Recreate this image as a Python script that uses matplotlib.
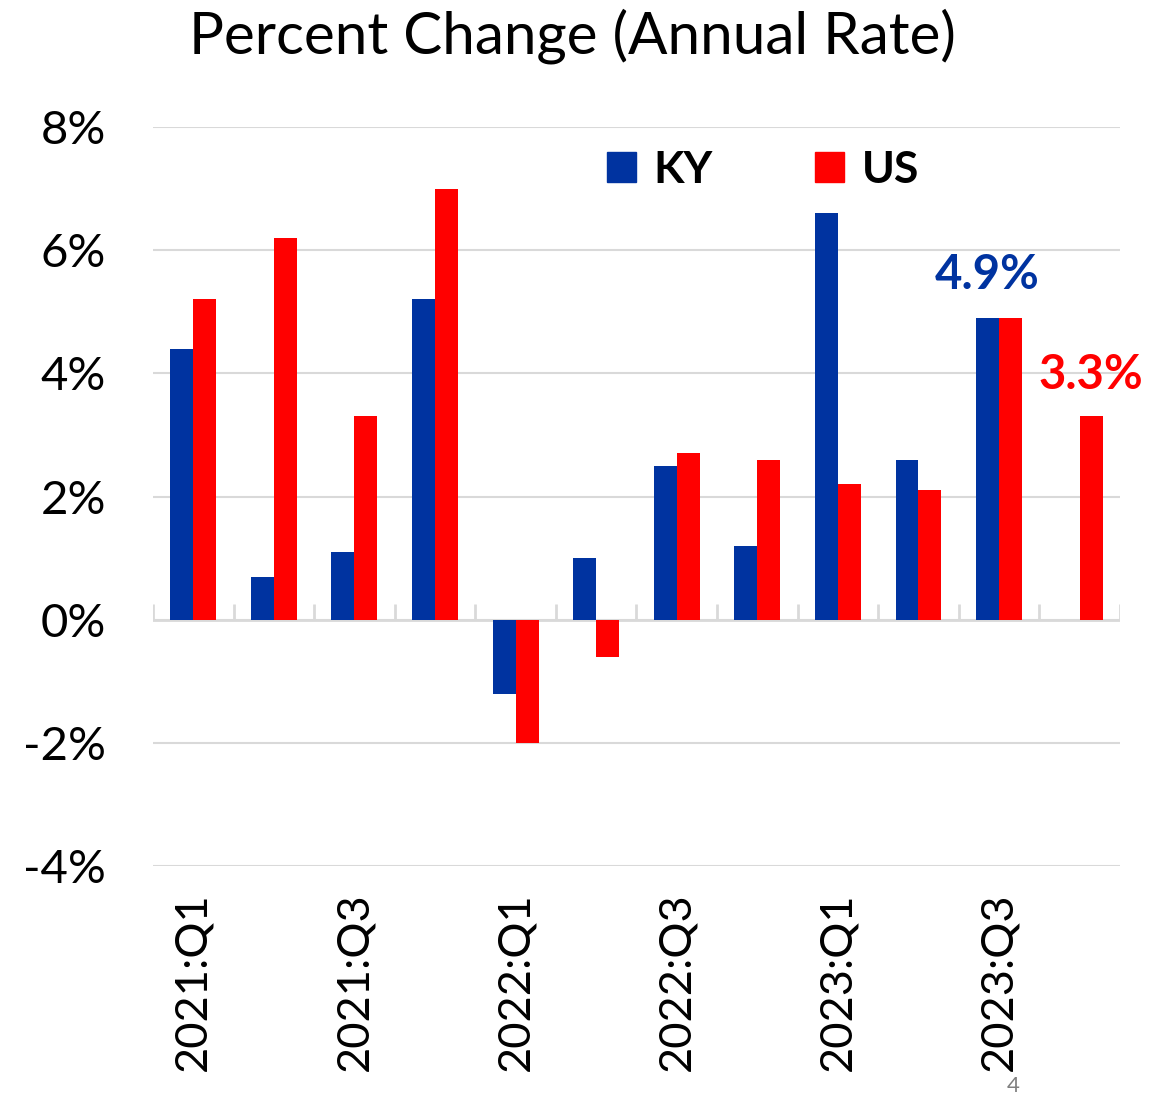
import matplotlib.pyplot as plt
from matplotlib.patches import Patch
import numpy as np

plt.rcParams['font.family'] = ['Lato', 'DejaVu Sans']

quarters = ['2021:Q1', '2021:Q2', '2021:Q3', '2021:Q4',
            '2022:Q1', '2022:Q2', '2022:Q3', '2022:Q4',
            '2023:Q1', '2023:Q2', '2023:Q3', '2023:Q4']
ky = [4.4, 0.7, 1.1, 5.2, -1.2, 1.0, 2.5, 1.2, 6.6, 2.6, 4.9, np.nan]
us = [5.2, 6.2, 3.3, 7.0, -2.0, -0.6, 2.7, 2.6, 2.2, 2.1, 4.9, 3.3]
yticks = [-4, -2, 0, 2, 4, 6, 8]

ky_col = '#0033A0'
us_col = '#FF0000'
grid_col = '#D9D9D9'

fig = plt.figure(figsize=(11.66, 10.95), dpi=100)
ax = fig.add_axes([0.1312, 0.2091, 0.8293, 0.6749])

x = np.arange(len(quarters))
w = 0.285
ax.bar(x - w/2, ky, w, color=ky_col, zorder=3)
ax.bar(x + w/2, us, w, color=us_col, zorder=3)

ax.set_xlim(-0.5, len(quarters) - 0.5)
ax.set_ylim(-4, 8)
ax.set_yticks(yticks)
ax.set_yticklabels([f'{v}%' for v in yticks], fontsize=34)
ax.yaxis.grid(True, color=grid_col, linewidth=1.5, zorder=0)
for s in ax.spines.values():
    s.set_visible(False)
ax.tick_params(axis='y', length=0, pad=34)

# category axis at zero with boundary ticks
ax.axhline(0, color=grid_col, linewidth=2, zorder=2)
ax.vlines(np.arange(len(quarters) + 1) - 0.5, 0, 0.26, color=grid_col,
          linewidth=2, zorder=2)

ax.set_xticks(x[::2])
ax.set_xticklabels(quarters[::2], rotation=90, fontsize=32.5, va='top')
ax.tick_params(axis='x', length=0, pad=19)

fig.text(572 / 1166, 1 - 36 / 1095, 'Percent Change (Annual Rate)',
         fontsize=42, ha='center', va='center')

handles = [Patch(color=ky_col), Patch(color=us_col)]
ax.legend(handles, ['KY', 'US'], loc='center', bbox_to_anchor=(0.631, 0.942),
          ncol=2, frameon=False, prop={'weight': 'bold', 'size': 32},
          handlelength=0.65, handleheight=0.65, columnspacing=2.3,
          handletextpad=0.4)

ax.text(x[10] - 0.15, 5.6, '4.9%', color=ky_col, fontsize=34, fontweight='bold',
        ha='center', va='center')
ax.text(x[11] + 0.14, 3.97, '3.3%', color=us_col, fontsize=34, fontweight='bold',
        ha='center', va='center')

fig.text(1013 / 1166, 1 - 1086 / 1095, '4', color='#808080', fontsize=16,
         ha='center', va='center')

fig.savefig('out.png', dpi=100)
